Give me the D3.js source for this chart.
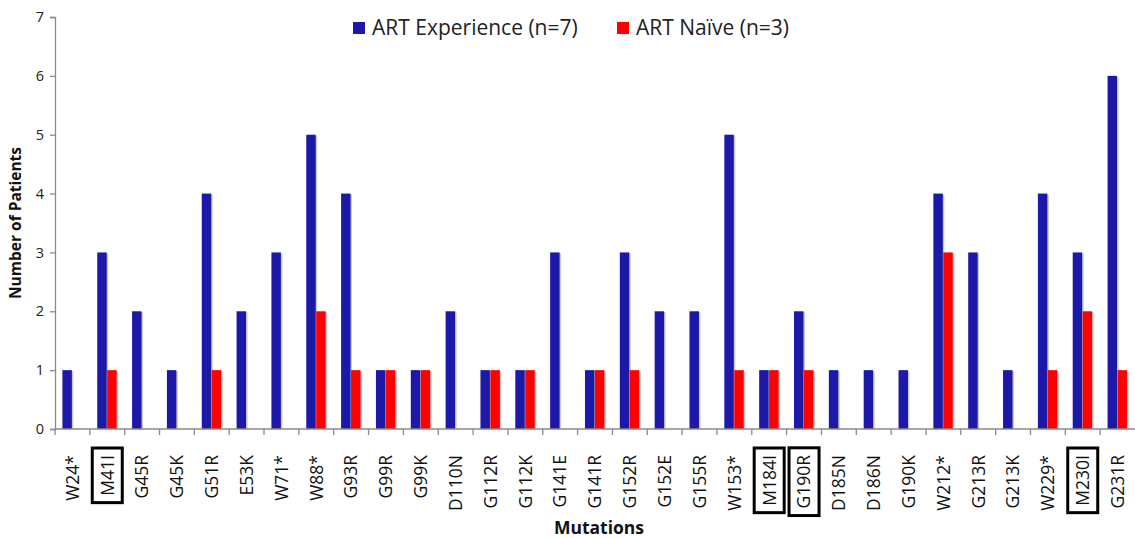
<!DOCTYPE html>
<html>
<head>
<meta charset="utf-8">
<script src="https://cdn.jsdelivr.net/npm/d3@7"></script>
<style>
  body { margin: 0; background: #fff; }
  svg { display: block; font-family: "Open Sans", sans-serif; }
</style>
</head>
<body>
<svg id="chart" width="1135" height="538"></svg>
<script>
// Data
const mutations = ["W24*","M41I","G45R","G45K","G51R","E53K","W71*","W88*","G93R","G99R","G99K",
  "D110N","G112R","G112K","G141E","G141R","G152R","G152E","G155R","W153*","M184I","G190R",
  "D185N","D186N","G190K","W212*","G213R","G213K","W229*","M230I","G231R"];
const experienced = [1,3,2,1,4,2,3,5,4,1,1,2,1,1,3,1,3,2,2,5,1,2,1,1,1,4,3,1,4,3,6];
const naive       = [0,1,0,0,1,0,0,2,1,1,1,0,1,1,0,1,1,0,0,1,1,1,0,0,0,3,0,0,1,2,1];
const boxed = ["M41I","M184I","G190R","M230I"];
const seriesNames = ["ART Experience (n=7)", "ART Naïve (n=3)"];
const yTicks = [0,1,2,3,4,5,6,7];

const COLORS = ["#1c18a8", "#ff0000"];
const M = { top: 17, left: 55, right: 0, bottom: 109 };
const W = 1135, H = 538;

const svg = d3.select("#chart");

const x = d3.scaleBand().domain(mutations).range([M.left, W - M.right]);
const xs = d3.scaleBand().domain([0, 1]).range([7.4, 26.8]).paddingInner(0.05);
const y = d3.scaleLinear().domain([0, 7]).range([H - M.bottom, M.top]);

const rows = mutations.map((m, i) => ({ m, v: [experienced[i], naive[i]] }));

// bars
const groups = svg.append("g").selectAll("g")
  .data(rows).join("g")
  .attr("transform", (d) => `translate(${x(d.m)},0)`);

const bars = groups.selectAll("g.bar")
  .data((d) => d.v.map((v, k) => ({ v, k })).filter((b) => b.v > 0))
  .join("g").attr("class", "bar");

// soft shadow to the right
bars.append("rect")
  .attr("x", (d) => xs(d.k) + 1.5)
  .attr("y", (d) => y(d.v) + 1)
  .attr("width", xs.bandwidth())
  .attr("height", (d) => y(0) - y(d.v) - 1)
  .attr("fill", "#c8c8c8");

bars.append("rect")
  .attr("x", (d) => xs(d.k))
  .attr("y", (d) => y(d.v))
  .attr("width", xs.bandwidth())
  .attr("height", (d) => y(0) - y(d.v))
  .attr("fill", (d) => COLORS[d.k]);

// y axis
const yAxis = svg.append("g")
  .attr("transform", `translate(${M.left},0)`)
  .call(d3.axisLeft(y).tickValues(yTicks).tickSize(5).tickPadding(6).tickFormat(d3.format("d")));
yAxis.selectAll("line, path").attr("stroke", "#8a8a8a").attr("stroke-width", 1.3);
yAxis.selectAll("text").attr("font-size", 14.5).attr("fill", "#222")
  .attr("font-family", "Open Sans, sans-serif");

// x axis
const xAxis = svg.append("g")
  .attr("transform", `translate(0,${y(0)})`);
xAxis.append("line")
  .attr("x1", M.left).attr("x2", W).attr("stroke", "#8a8a8a").attr("stroke-width", 1.3);
xAxis.selectAll("line.tick")
  .data(mutations).join("line").attr("class", "tick")
  .attr("x1", (d) => x(d)).attr("x2", (d) => x(d))
  .attr("y1", 0).attr("y2", 6)
  .attr("stroke", "#8a8a8a").attr("stroke-width", 1.3);

const labels = xAxis.selectAll("g.lab")
  .data(mutations).join("g").attr("class", "lab")
  .attr("transform", (d) => `translate(${x(d) + x.bandwidth() / 2},26) rotate(-90)`);
labels.append("text")
  .attr("text-anchor", "end")
  .attr("dy", "0.36em")
  .attr("font-size", 17.5)
  .attr("fill", "#111")
  .text((d) => d);
labels.filter((d) => boxed.includes(d)).each(function() {
  const g = d3.select(this);
  const bb = g.select("text").node().getBBox();
  g.insert("rect", "text")
    .attr("x", bb.x - 7).attr("y", -15)
    .attr("width", bb.width + 14).attr("height", 30)
    .attr("fill", "none").attr("stroke", "#000").attr("stroke-width", 3);
});

// axis titles
svg.append("text")
  .attr("transform", `translate(21,${(y(0) + y(7)) / 2}) rotate(-90)`)
  .attr("text-anchor", "middle")
  .attr("font-size", 15.5).attr("font-weight", "bold").attr("fill", "#111")
  .text("Number of Patients");

svg.append("text")
  .attr("x", 599).attr("y", 534)
  .attr("text-anchor", "middle")
  .attr("font-size", 17.5).attr("font-weight", "bold").attr("fill", "#111")
  .text("Mutations");

// legend
const legX = [353, 617];
const leg = svg.append("g").selectAll("g")
  .data(seriesNames).join("g")
  .attr("transform", (d, i) => `translate(${legX[i]},22)`);
leg.append("rect").attr("width", 12).attr("height", 12)
  .attr("fill", (d, i) => COLORS[i]);
leg.append("text").attr("x", 19).attr("y", 13)
  .attr("font-size", 21).attr("fill", "#222")
  .text((d) => d);
</script>
</body>
</html>
